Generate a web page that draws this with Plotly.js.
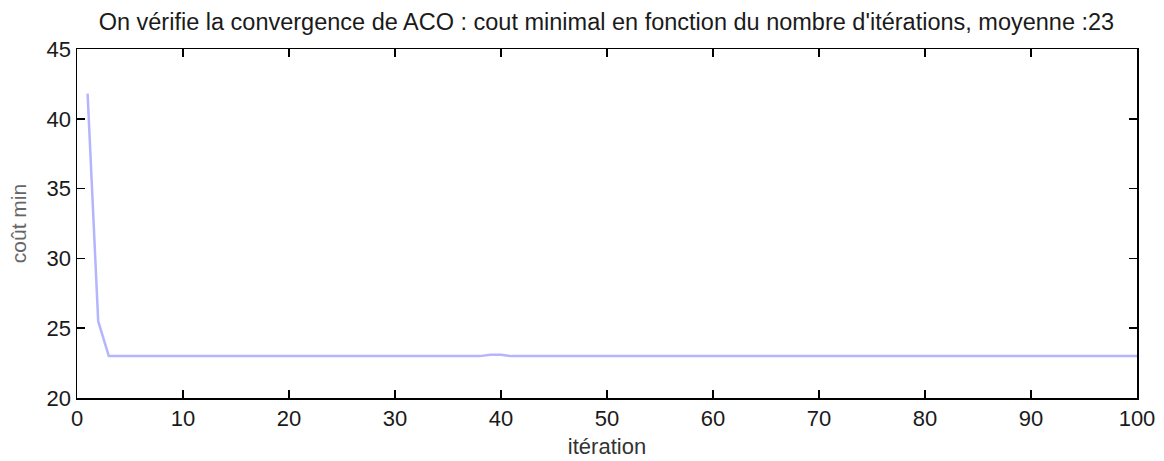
<!DOCTYPE html>
<html><head><meta charset="utf-8">
<script src="https://cdn.plot.ly/plotly-3.0.1.min.js"></script>
<style>body{margin:0;background:#fff}#c{width:1164px;height:461px}</style>
</head><body><div id="c"></div>
<script>
const iterations = [];
for (let i = 1; i <= 100; i++) iterations.push(i);
const coutMin = [41.8, 25.5, 23, 23, 23, 23, 23, 23, 23, 23,
  23, 23, 23, 23, 23, 23, 23, 23, 23, 23,
  23, 23, 23, 23, 23, 23, 23, 23, 23, 23,
  23, 23, 23, 23, 23, 23, 23, 23, 23.1, 23.1,
  23, 23, 23, 23, 23, 23, 23, 23, 23, 23,
  23, 23, 23, 23, 23, 23, 23, 23, 23, 23,
  23, 23, 23, 23, 23, 23, 23, 23, 23, 23,
  23, 23, 23, 23, 23, 23, 23, 23, 23, 23,
  23, 23, 23, 23, 23, 23, 23, 23, 23, 23,
  23, 23, 23, 23, 23, 23, 23, 23, 23, 23];
const xTicks = [0, 10, 20, 30, 40, 50, 60, 70, 80, 90, 100];
const yTicks = [20, 25, 30, 35, 40, 45];
const titleText = "On vérifie la convergence de ACO : cout minimal en fonction du nombre d'itérations, moyenne :23";
const fam = "Liberation Sans, Arial, sans-serif";
const axisCommon = {
  showgrid: false, zeroline: false, showline: true, mirror: "ticks",
  linecolor: "#000", linewidth: 1.5, ticks: "inside", ticklen: 8, tickwidth: 1.5,
  tickcolor: "#000", tickfont: {family: fam, size: 22, color: "#1a1a1a"}, automargin: false
};
Plotly.newPlot("c", [{
  x: iterations, y: coutMin, type: "scatter", mode: "lines",
  line: {color: "#b4b4ff", width: 2.5}
}], {
  width: 1164, height: 461,
  margin: {l: 77, r: 27, t: 49, b: 63},
  paper_bgcolor: "#fff", plot_bgcolor: "#fff",
  showlegend: false,
  title: {text: titleText, font: {family: fam, size: 23.5, color: "#1a1a1a"}, x: 0.521, xanchor: "center", y: 0.952, yanchor: "middle"},
  xaxis: Object.assign({}, axisCommon, {range: [0, 100], tickvals: xTicks,
    title: {text: "itération", font: {family: fam, size: 22, color: "#333"}, standoff: 8}}),
  yaxis: Object.assign({}, axisCommon, {range: [20, 45], tickvals: yTicks,
    title: {text: "coût min", font: {family: fam, size: 21, color: "#666"}, standoff: 14}})
}, {staticPlot: true});
</script></body></html>
